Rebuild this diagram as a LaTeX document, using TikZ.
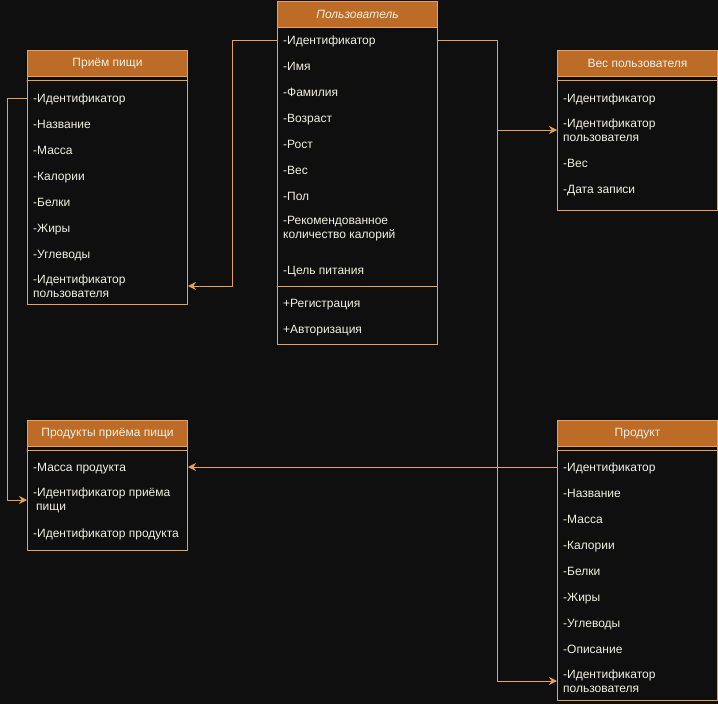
\documentclass[tikz,border=0pt]{standalone}
\usepackage{fontspec}
\setmainfont{Liberation Sans}
\usepackage{tikz}
\usetikzlibrary{arrows.meta}

\definecolor{bgdark}{HTML}{0F0F0F}
\definecolor{headfill}{HTML}{BD6C27}
\definecolor{lineorange}{HTML}{E6A15A}
\definecolor{textcream}{HTML}{F0F0E2}

\begin{document}
\begin{tikzpicture}[x=1pt, y=-1pt, line cap=round, line join=round,
    box/.style={draw=lineorange, line width=1pt, fill=bgdark, minimum width=160pt, anchor=north west, inner sep=0pt},
    head/.style={draw=lineorange, line width=1pt, fill=headfill, minimum width=160pt, minimum height=26pt, anchor=north west, inner sep=0pt, text=textcream, font=\fontsize{12}{14}\selectfont},
    row/.style={anchor=west, inner sep=0pt, text height=10pt, text depth=2pt, text=textcream, font=\fontsize{12}{14}\selectfont},
    tworow/.style={anchor=west, inner sep=0pt, align=left, text=textcream, font=\fontsize{12}{14}\selectfont},
    sep/.style={draw=lineorange, line width=1pt},
    link/.style={draw=lineorange, line width=1pt, -{Stealth[length=8pt,width=8pt]}}]

                % Background and page size
                \fill[bgdark] (0,0) rectangle (718,704);
                \useasboundingbox (0,0) rectangle (718,704);

                % Class boxes
                \node[box, minimum height=343.5pt] (user) at (277,0.5) {};
                \node[head] (userHead) at (277,0.5) {\itshape Пользователь};
                \node[box, minimum height=254pt] (meal) at (27,50) {};
                \node[head] (mealHead) at (27,50) {Приём пищи};
                \node[box, minimum height=160pt] (weight) at (557,50) {};
                \node[head] (weightHead) at (557,50) {Вес пользователя};
                \node[box, minimum height=130pt] (mealProd) at (27,420) {};
                \node[head] (mealProdHead) at (27,420) {Продукты приёма пищи};
                \node[box, minimum height=280pt] (prod) at (557,420) {};
                \node[head] (prodHead) at (557,420) {Продукт};

                % Divider lines
                \draw[sep] (27,80) -- (187,80);
                \draw[sep] (557,80) -- (717,80);
                \draw[sep] (27,450) -- (187,450);
                \draw[sep] (557,450) -- (717,450);
                \draw[sep] (277,286) -- (437,286);

                % Rows of Пользователь
                \foreach \t [count=\i] in {Идентификатор,Имя,Фамилия,Возраст,Рост,Вес,Пол}
                    \node[row] (u\i) at (283,{14+26*\i}) {-\t};
                \node[tworow] (u8) at (283,229) {-Рекомендованное\\количество калорий};
                \node[row] (u9) at (283,270) {-Цель питания};
                \node[row] (u10) at (283,303) {+Регистрация};
                \node[row] (u11) at (283,329) {+Авторизация};

                % Rows of Приём пищи
                \foreach \t [count=\i] in {Идентификатор,Название,Масса,Калории,Белки,Жиры,Углеводы}
                    \node[row] (m\i) at (33,{72+26*\i}) {-\t};
                \node[tworow] (m8) at (33,286) {-Идентификатор\\пользователя};

                % Rows of Вес пользователя
                \node[row] (w1) at (563,98) {-Идентификатор};
                \node[tworow] (w2) at (563,130) {-Идентификатор\\пользователя};
                \node[row] (w3) at (563,163) {-Вес};
                \node[row] (w4) at (563,189) {-Дата записи};

                % Rows of Продукты приёма пищи
                \node[row] (mp1) at (33,467) {-Масса продукта};
                \node[tworow] (mp2) at (33,500) {-Идентификатор приёма\\\hspace{3pt}пищи};
                \node[row] (mp3) at (33,533) {-Идентификатор продукта};

                % Rows of Продукт
                \foreach \t [count=\i] in {Идентификатор,Название,Масса,Калории,Белки,Жиры,Углеводы,Описание}
                    \node[row] (p\i) at (563,{441+26*\i}) {-\t};
                \node[tworow] (p9) at (563,681) {-Идентификатор\\пользователя};

                % Bend points
                \coordinate (bendA) at (232,0);
                \coordinate (bendB) at (497,0);
                \coordinate (bendC) at (7,0);

                % Connectors
                \draw[link] (user.west |- u1) -| (bendA |- m8) -- (meal.east |- m8);
                \draw[link] (user.east |- u1) -| (bendB |- w2) -- (weight.west |- w2);
                \draw[link] (user.east |- u1) -| (bendB |- p9) -- (prod.west |- p9);
                \draw[link] (meal.west |- m1) -| (bendC |- mp2) -- (mealProd.west |- mp2);
                \draw[link] (prod.west |- p1) -- (mealProd.east |- p1);

            \end{tikzpicture}
\end{document}
